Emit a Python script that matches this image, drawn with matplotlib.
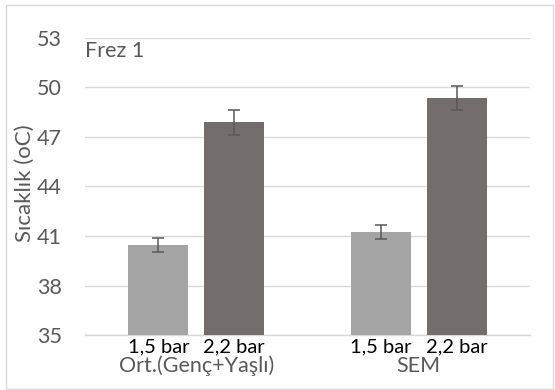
import matplotlib
matplotlib.use("Agg")
import matplotlib.pyplot as plt
import matplotlib.transforms as mtransforms
from matplotlib.patches import Rectangle
import numpy as np

# data
categories = ["Ort.(Genç+Yaşlı)", "SEM"]
series_names = ["1,5 bar", "2,2 bar"]
values_15 = [40.45, 41.22]
values_22 = [47.89, 49.34]
err_15 = [0.42, 0.42]
err_22 = [0.76, 0.73]
yticks = [35, 38, 41, 44, 47, 50, 53]

plt.rcParams["font.family"] = ["Lato", "DejaVu Sans"]

fig = plt.figure(figsize=(5.55, 3.9), dpi=100)
ax = fig.add_axes([0.1532, 0.141, 0.8018, 0.7616])

# chart border like the office chart frame
fig.patches.append(Rectangle((6 / 555, 1 / 390), 547 / 555, 384 / 390,
                             transform=fig.transFigure, fill=False,
                             edgecolor="#D9D9D9", linewidth=1.0))

x = np.arange(len(categories))
offset = 0.17
width = 0.27
colors = ["#A5A5A5", "#736E6C"]

ax.bar(x - offset, values_15, width, color=colors[0], zorder=3)
ax.bar(x + offset, values_22, width, color=colors[1], zorder=3)
ax.errorbar(x - offset, values_15, yerr=err_15, fmt="none", ecolor="#595959",
            elinewidth=1.1, capsize=4.6, capthick=1.1, zorder=4)
ax.errorbar(x + offset, values_22, yerr=err_22, fmt="none", ecolor="#595959",
            elinewidth=1.1, capsize=4.6, capthick=1.1, zorder=4)

ax.set_xlim(-0.5, 1.5)
ax.set_ylim(35, 53)
ax.set_yticks(yticks)
ax.yaxis.grid(True, color="#D9D9D9", linewidth=1.0, zorder=0)
for s in ["top", "right", "left"]:
    ax.spines[s].set_visible(False)
ax.spines["bottom"].set_color("#D9D9D9")
ax.spines["bottom"].set_linewidth(1.0)
ax.tick_params(axis="y", length=0, pad=16.5, labelsize=15.5, labelcolor="#595959")
ax.tick_params(axis="x", length=0)
ax.set_xticks([])

# bar and category labels under the axis
trans = mtransforms.blended_transform_factory(ax.transData, ax.transAxes)
for i in range(len(categories)):
    ax.text(x[i] - offset, -0.040, series_names[0], transform=trans, ha="center",
            va="center", fontsize=14.5, color="black")
    ax.text(x[i] + offset, -0.040, series_names[1], transform=trans, ha="center",
            va="center", fontsize=14.5, color="black")
    ax.text(x[i], -0.104, categories[i], transform=trans, ha="center",
            va="center", fontsize=15.5, color="#595959")

ax.text(0.0, 0.956, "Frez 1", transform=ax.transAxes, ha="left", va="center",
        fontsize=15.5, color="#595959")

fig.text(25 / 555, 1 - 183 / 390, "Sıcaklık (oC)", rotation=90, ha="center",
         va="center", fontsize=16, color="#595959")

fig.savefig("out.png", dpi=100)
